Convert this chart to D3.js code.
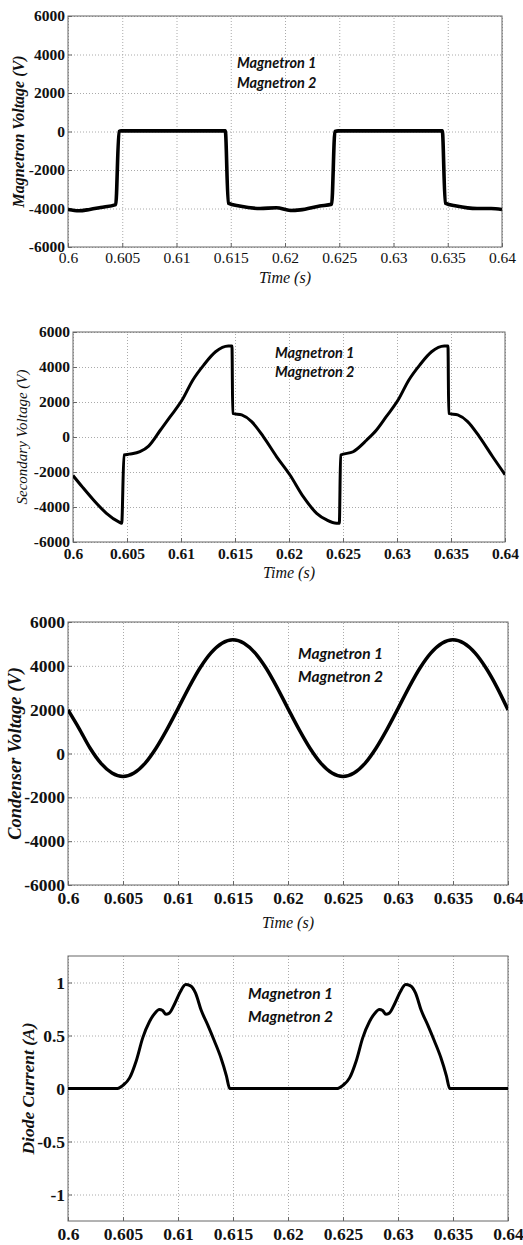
<!DOCTYPE html>
<html>
<head>
<meta charset="utf-8">
<script src="https://cdn.jsdelivr.net/npm/d3@7"></script>
<style>
  body { margin: 0; background: #fff; }
  svg { display: block; }
</style>
</head>
<body>
<div id="chart"></div>
<script>
// ---- data ----
const timeTicks = [0.6, 0.605, 0.61, 0.615, 0.62, 0.625, 0.63, 0.635, 0.64];
const voltTicks = [-6000, -4000, -2000, 0, 2000, 4000, 6000];
const currentTicks = [-1, -0.5, 0, 0.5, 1];
const legendLabels = ['Magnetron 1', 'Magnetron 2'];

// magnetron voltage
const magTime = [0.6, 0.601, 0.602, 0.603, 0.6044, 0.6047, 0.6049, 0.6145, 0.61477, 0.6158, 0.6177,
  0.6192, 0.6205, 0.6214, 0.6232, 0.6243, 0.6246, 0.6249, 0.6345, 0.63477, 0.6358, 0.6377, 0.639, 0.64];
const magVolt = [-4050, -4120, -4050, -3950, -3800, 0, 30, 30, -3720, -3870, -4000,
  -3960, -4100, -4070, -3870, -3780, 0, 30, 30, -3720, -3870, -4000, -4000, -4050];

// secondary voltage
const secTime = [0.6, 0.6009, 0.6019, 0.6031, 0.6042, 0.60451, 0.60472, 0.6052, 0.6062, 0.607, 0.6081,
  0.609, 0.6101, 0.6111, 0.6121, 0.6132, 0.61438, 0.61472, 0.61479, 0.61562, 0.61654, 0.61762, 0.61886,
  0.62009, 0.62132, 0.62256, 0.62349, 0.6244, 0.62466, 0.62478, 0.62594, 0.6272, 0.6281, 0.629, 0.6301,
  0.6311, 0.6321, 0.6332, 0.63438, 0.63472, 0.63479, 0.63562, 0.63654, 0.63762, 0.63886, 0.64];
const secVolt = [-2200, -2880, -3600, -4360, -4840, -4930, -1030, -980, -840, -520, 400,
  1160, 2110, 3260, 4110, 4870, 5200, 5200, 1350, 1260, 880, 20, -1130,
  -2170, -3410, -4360, -4740, -4930, -4930, -1030, -840, -170, 400, 1160, 2110,
  3260, 4110, 4870, 5200, 5200, 1350, 1260, 880, 20, -1130, -2150];

// condenser voltage
const conTime = [0.6, 0.601, 0.602, 0.603, 0.604, 0.605, 0.606, 0.607, 0.608, 0.609, 0.61,
  0.611, 0.612, 0.613, 0.614, 0.615, 0.616, 0.617, 0.618, 0.619, 0.62,
  0.621, 0.622, 0.623, 0.624, 0.625, 0.626, 0.627, 0.628, 0.629, 0.63,
  0.631, 0.632, 0.633, 0.634, 0.635, 0.636, 0.637, 0.638, 0.639, 0.64];
const conVolt = [1990, 1150, 250, -450, -890, -1050, -890, -450, 240, 1100, 2050,
  3020, 3900, 4590, 5030, 5190, 5030, 4590, 3900, 3020, 2050,
  1100, 240, -450, -890, -1050, -890, -450, 240, 1100, 2050,
  3020, 3900, 4590, 5030, 5190, 5030, 4590, 3900, 3020, 1990];

// diode current
const diodeTime = [0.6, 0.6045, 0.605, 0.6056, 0.6062, 0.6068, 0.6074, 0.6079, 0.6083, 0.6086, 0.6089,
  0.6092, 0.6097, 0.6102, 0.6107, 0.6111, 0.6116, 0.6121, 0.6127, 0.6133, 0.6139, 0.6144, 0.6147,
  0.6245, 0.625, 0.6256, 0.6262, 0.6268, 0.6274, 0.6279, 0.6283, 0.6286, 0.6289,
  0.6292, 0.6297, 0.6302, 0.6307, 0.6311, 0.6316, 0.6321, 0.6327, 0.6333, 0.6339, 0.6344, 0.6347, 0.64];
const diodeCurrent = [0, 0, 0.03, 0.1, 0.26, 0.48, 0.63, 0.71, 0.745, 0.735, 0.7,
  0.71, 0.8, 0.91, 0.98, 0.97, 0.9, 0.74, 0.6, 0.45, 0.29, 0.12, 0,
  0, 0.03, 0.1, 0.26, 0.48, 0.63, 0.71, 0.745, 0.735, 0.7,
  0.71, 0.8, 0.91, 0.98, 0.97, 0.9, 0.74, 0.6, 0.45, 0.29, 0.12, 0, 0];

const svg = d3.select('#chart').append('svg')
  .attr('width', 523)
  .attr('height', 1245);

const tickFont = '"Liberation Serif", serif';

function drawPanel(p) {
  const x = d3.scaleLinear().domain([0.6, 0.64]).range([p.left, p.right]);
  const y = d3.scaleLinear().domain(p.yDomain).range([p.bottom, p.top]);
  const w = p.right - p.left;
  const h = p.bottom - p.top;
  const g = svg.append('g');

  // dotted grid
  g.append('g')
    .attr('transform', `translate(0,${p.bottom})`)
    .call(d3.axisBottom(x).tickValues(timeTicks).tickSize(-h).tickFormat(''))
    .call(s => s.select('.domain').remove())
    .selectAll('line').attr('stroke', '#aaa').attr('stroke-dasharray', '1,2');
  g.append('g')
    .attr('transform', `translate(${p.left},0)`)
    .call(d3.axisLeft(y).tickValues(p.yTicks).tickSize(-w).tickFormat(''))
    .call(s => s.select('.domain').remove())
    .selectAll('line').attr('stroke', '#aaa').attr('stroke-dasharray', '1,2');

  // axes with inward ticks
  const xAxis = g.append('g')
    .attr('transform', `translate(0,${p.bottom})`)
    .attr('font-family', null)
    .call(d3.axisBottom(x).tickValues(timeTicks).tickSizeInner(-4).tickSizeOuter(0)
      .tickPadding(p.xPad).tickFormat(d3.format('~g')));
  xAxis.attr('font-family', tickFont).attr('font-size', p.tickSize);
  xAxis.select('.domain').remove();
  xAxis.selectAll('line').attr('stroke', '#666');
  xAxis.selectAll('text')
    .attr('fill', '#111')
    .style('font-family', tickFont)
    .style('font-size', p.tickSize + 'px')
    .style('font-weight', p.xBold ? 'bold' : 'normal');

  const yAxis = g.append('g')
    .attr('transform', `translate(${p.left},0)`)
    .call(d3.axisLeft(y).tickValues(p.yTicks).tickSizeInner(-4).tickSizeOuter(0)
      .tickPadding(3).tickFormat(d => String(d)));
  yAxis.attr('font-family', tickFont).attr('font-size', p.tickSize);
  yAxis.select('.domain').remove();
  yAxis.selectAll('line').attr('stroke', '#666');
  yAxis.selectAll('text')
    .attr('fill', '#111')
    .style('font-family', tickFont)
    .style('font-size', p.tickSize + 'px')
    .style('font-weight', 'bold');

  // box
  g.append('rect')
    .attr('x', p.left).attr('y', p.top)
    .attr('width', w).attr('height', h)
    .attr('fill', 'none').attr('stroke', '#666').attr('stroke-width', 1);

  // curve
  const clipId = 'clip' + p.id;
  svg.append('clipPath').attr('id', clipId)
    .append('rect').attr('x', p.left).attr('y', p.top - 2)
    .attr('width', w).attr('height', h + 4);
  const pts = p.t.map((t, i) => [t, p.v[i]]);
  g.append('path')
    .datum(pts)
    .attr('clip-path', `url(#${clipId})`)
    .attr('fill', 'none')
    .attr('stroke', '#000')
    .attr('stroke-width', p.lineWidth)
    .attr('stroke-linejoin', 'round')
    .attr('d', d3.line().x(d => x(d[0])).y(d => y(d[1])).curve(d3.curveMonotoneX));

  // legend (text only)
  g.selectAll('.legend')
    .data(legendLabels)
    .enter().append('text')
    .attr('x', p.legendX)
    .attr('y', (d, i) => p.legendY + i * p.legendGap)
    .attr('dominant-baseline', 'central')
    .style('font-family', 'Lato, sans-serif')
    .style('font-style', 'italic')
    .style('font-weight', 'bold')
    .style('font-size', p.legendSize + 'px')
    .attr('fill', '#111')
    .text(d => d);

  // y label
  g.append('text')
    .attr('transform', `translate(${p.yLabelX},${(p.top + p.bottom) / 2}) rotate(-90)`)
    .attr('text-anchor', 'middle')
    .attr('dominant-baseline', 'central')
    .style('font-family', tickFont)
    .style('font-style', 'italic')
    .style('font-weight', p.yLabelBold ? 'bold' : 'normal')
    .style('font-size', p.yLabelSize + 'px')
    .attr('fill', '#111')
    .text(p.yLabel);

  // x label
  if (p.xLabelY) {
    g.append('text')
      .attr('x', (p.left + p.right) / 2)
      .attr('y', p.xLabelY)
      .attr('text-anchor', 'middle')
      .attr('dominant-baseline', 'central')
      .style('font-family', tickFont)
      .style('font-style', 'italic')
      .style('font-size', '16px')
      .attr('fill', '#111')
      .text('Time (s)');
  }
}

drawPanel({
  id: 1, left: 68, right: 502, top: 16, bottom: 247,
  yDomain: [-6000, 6000], yTicks: voltTicks, t: magTime, v: magVolt,
  lineWidth: 3.6,
  tickSize: 15.5, xBold: false, xPad: 5,
  legendX: 237, legendY: 62, legendGap: 20, legendSize: 14.5,
  yLabel: 'Magnetron Voltage (V)', yLabelX: 18, yLabelBold: true, yLabelSize: 16,
  xLabelY: 277
});

drawPanel({
  id: 2, left: 73, right: 505, top: 332, bottom: 542,
  yDomain: [-6000, 6000], yTicks: voltTicks, t: secTime, v: secVolt,
  lineWidth: 3,
  tickSize: 15.5, xBold: true, xPad: 6,
  legendX: 275, legendY: 352, legendGap: 19, legendSize: 14.5,
  yLabel: 'Secondary Voltage (V)', yLabelX: 22, yLabelBold: false, yLabelSize: 15,
  xLabelY: 572
});

drawPanel({
  id: 3, left: 68, right: 508, top: 622, bottom: 885,
  yDomain: [-6000, 6000], yTicks: voltTicks, t: conTime, v: conVolt,
  lineWidth: 3.5,
  tickSize: 17.5, xBold: true, xPad: 7,
  legendX: 298, legendY: 653, legendGap: 23, legendSize: 15.5,
  yLabel: 'Condenser Voltage (V)', yLabelX: 15, yLabelBold: true, yLabelSize: 18.5,
  xLabelY: 922
});

drawPanel({
  id: 4, left: 68, right: 508, top: 956, bottom: 1221,
  yDomain: [-1.25, 1.25], yTicks: currentTicks, t: diodeTime, v: diodeCurrent,
  lineWidth: 3,
  tickSize: 17.5, xBold: true, xPad: 7,
  legendX: 248, legendY: 993, legendGap: 23, legendSize: 15.5,
  yLabel: 'Diode Current (A)', yLabelX: 28, yLabelBold: true, yLabelSize: 17.5,
  xLabelY: null
});
</script>
</body>
</html>
